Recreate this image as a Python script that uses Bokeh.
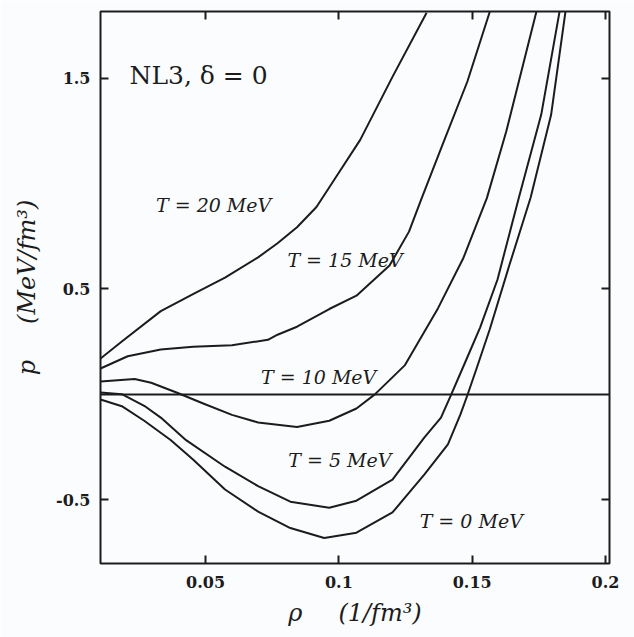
from bokeh.plotting import figure
from bokeh.models import Range1d, LinearAxis, FixedTicker, Span, Label, CustomLabelingPolicy
from bokeh.embed import file_html
from bokeh.resources import INLINE

# ---- data ----
rho_T0 = [0.0106, 0.0186, 0.0270, 0.0369, 0.0453, 0.0573, 0.0697, 0.0818, 0.0945, 0.1066,
          0.1201, 0.1321, 0.1409, 0.1456, 0.1482, 0.1518, 0.1566, 0.1639, 0.1719, 0.1796, 0.1850]
p_T0 = [-0.024, -0.056, -0.125, -0.216, -0.309, -0.451, -0.556, -0.634, -0.681, -0.656,
        -0.560, -0.379, -0.237, -0.095, -0.004, 0.129, 0.309, 0.611, 0.933, 1.326, 1.817]

rho_T5 = [0.0106, 0.0186, 0.0270, 0.0332, 0.0427, 0.0573, 0.0697, 0.0818, 0.0964, 0.1066,
          0.1201, 0.1321, 0.1383, 0.1420, 0.1475, 0.1530, 0.1595, 0.1675, 0.1759, 0.1828]
p_T5 = [0.009, 0.001, -0.054, -0.110, -0.217, -0.343, -0.435, -0.509, -0.538, -0.504,
        -0.404, -0.204, -0.110, -0.005, 0.156, 0.318, 0.545, 0.933, 1.327, 1.818]

rho_T10 = [0.0106, 0.0234, 0.0296, 0.0391, 0.0489, 0.0599, 0.0697, 0.0843, 0.0964, 0.1066,
           0.1135, 0.1248, 0.1372, 0.1467, 0.1555, 0.1628, 0.1741]
p_T10 = [0.061, 0.073, 0.055, 0.009, -0.042, -0.097, -0.133, -0.155, -0.125, -0.067,
         0.000, 0.139, 0.409, 0.647, 0.931, 1.248, 1.816]

rho_T15 = [0.0106, 0.0208, 0.0332, 0.0453, 0.0599, 0.0734, 0.0770, 0.0843, 0.0964, 0.1066,
           0.1190, 0.1263, 0.1310, 0.1383, 0.1482, 0.1566]
p_T15 = [0.123, 0.181, 0.213, 0.226, 0.233, 0.259, 0.283, 0.321, 0.405, 0.468,
         0.611, 0.772, 0.929, 1.166, 1.484, 1.815]

rho_T20 = [0.0106, 0.0186, 0.0332, 0.0453, 0.0573, 0.0697, 0.0770, 0.0843, 0.0916, 0.0982,
           0.1080, 0.1201, 0.1329]
p_T20 = [0.170, 0.251, 0.395, 0.476, 0.554, 0.650, 0.717, 0.793, 0.889, 1.017,
         1.207, 1.506, 1.810]

x_ticks = [0.05, 0.1, 0.15, 0.2]
x_tick_labels = ["0.05", "0.1", "0.15", "0.2"]
y_ticks = [-0.5, 0.5, 1.5]
y_tick_labels = ["-0.5", "0.5", "1.5"]

curve_labels = ["T = 0 MeV", "T = 5 MeV", "T = 10 MeV", "T = 15 MeV", "T = 20 MeV"]
title_text = "NL3, δ = 0"
x_title = "ρ\u2003\u2002(1/fm³)"
y_title = "p\u2003\u2002(MeV/fm³)"

INK = "#1c1c1c"
BG = "#fbfcfd"
SERIF = "DejaVu Serif"

p = figure(width=634, height=637,
           x_range=Range1d(0.0106, 0.2015), y_range=Range1d(-0.802, 1.816),
           output_backend="svg", toolbar_location=None,
           min_border_left=100, min_border_right=11, min_border_top=8, min_border_bottom=74)
p.background_fill_color = BG
p.border_fill_color = BG
p.xgrid.visible = False
p.ygrid.visible = False
p.outline_line_color = INK
p.outline_line_width = 2

series = [(rho_T0, p_T0), (rho_T5, p_T5), (rho_T10, p_T10), (rho_T15, p_T15), (rho_T20, p_T20)]
for xs, ys in series:
    p.line(xs, ys, line_color=INK, line_width=2, line_join="round")

p.add_layout(Span(location=0, dimension="width", line_color=INK, line_width=2))

def style_axis(ax, ticks, labels, show_labels):
    ax.ticker = FixedTicker(ticks=ticks)
    ax.axis_line_color = None
    ax.major_tick_in = 8
    ax.major_tick_out = 0
    ax.major_tick_line_color = INK
    ax.major_tick_line_width = 2
    ax.minor_tick_line_color = None
    if show_labels:
        ax.major_label_overrides = {t: l for t, l in zip(ticks, labels)}
        ax.major_label_text_font = SERIF
        ax.major_label_text_font_style = "bold"
        ax.major_label_text_font_size = "16px"
        ax.major_label_text_color = INK
    else:
        ax.major_label_policy = CustomLabelingPolicy(code="""
for (const i of Array.from(indices)) { indices.unset(i) }
""")
        ax.major_label_standoff = 0

xa = p.xaxis[0]
style_axis(xa, x_ticks, x_tick_labels, True)
xa.major_label_standoff = 12
xa.axis_label = x_title
xa.axis_label_text_font = SERIF
xa.axis_label_text_font_style = "italic"
xa.axis_label_text_font_size = "24px"
xa.axis_label_text_color = INK
xa.axis_label_standoff = 8

ya = p.yaxis[0]
style_axis(ya, y_ticks, y_tick_labels, True)
ya.major_label_standoff = 10
ya.axis_label = y_title
ya.axis_label_text_font = SERIF
ya.axis_label_text_font_style = "italic"
ya.axis_label_text_font_size = "24px"
ya.axis_label_text_color = INK
ya.axis_label_standoff = 12

top = LinearAxis()
style_axis(top, x_ticks, x_tick_labels, False)
p.add_layout(top, "above")
right = LinearAxis()
style_axis(right, y_ticks, y_tick_labels, False)
p.add_layout(right, "right")

# annotations (left edge / vertical middle)
label_x = [0.1303, 0.0810, 0.0708, 0.0807, 0.0314]
label_y = [-0.601, -0.311, 0.084, 0.637, 0.899]
for t, lx, ly in zip(curve_labels, label_x, label_y):
    p.add_layout(Label(x=lx, y=ly, text=t, text_font=SERIF, text_font_style="italic",
                       text_font_size="19px", text_color=INK,
                       text_align="left", text_baseline="middle"))
p.add_layout(Label(x=0.0215, y=1.514, text=title_text, text_font=SERIF,
                   text_font_size="25px", text_color=INK,
                   text_align="left", text_baseline="middle"))

open("out.html", "w").write(file_html(p, INLINE))
